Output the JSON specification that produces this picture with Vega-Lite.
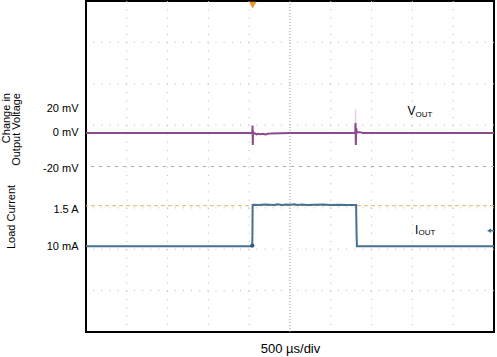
{
  "$schema": "https://vega.github.io/schema/vega-lite/v6.json",
  "width": 408,
  "height": 331,
  "autosize": {"type": "none"},
  "padding": {"left": 86, "top": 1, "right": 3, "bottom": 25},
  "background": "#ffffff",
  "config": {
    "view": {"stroke": "#000000", "strokeWidth": 2},
    "font": "Liberation Sans",
    "text": {"font": "Liberation Sans", "color": "#000000"}
  },
  "datasets": {
    "gx": [{"t": -2000}, {"t": -1500}, {"t": -1000}, {"t": -500}, {"t": 500}, {"t": 1000}, {"t": 1500}, {"t": 2000}],
    "gy": [{"v": -3}, {"v": -2}, {"v": -1}, {"v": 1}, {"v": 2}, {"v": 3}],
    "vout": [
      {"t": -2500, "v": 0.81}, {"t": -1500, "v": 0.81}, {"t": -800, "v": 0.812}, {"t": -470, "v": 0.81},
      {"t": -462, "v": 0.82}, {"t": -459, "v": 0.99}, {"t": -456, "v": 0.52}, {"t": -452, "v": 0.86},
      {"t": -446, "v": 0.79}, {"t": -430, "v": 0.8}, {"t": -410, "v": 0.775}, {"t": -390, "v": 0.79},
      {"t": -360, "v": 0.78}, {"t": -330, "v": 0.79}, {"t": -300, "v": 0.775}, {"t": -270, "v": 0.79},
      {"t": -240, "v": 0.8}, {"t": 0, "v": 0.81}, {"t": 400, "v": 0.81}, {"t": 795, "v": 0.81},
      {"t": 800, "v": 0.83}, {"t": 803, "v": 1.05}, {"t": 807, "v": 0.52}, {"t": 812, "v": 0.92},
      {"t": 820, "v": 0.82}, {"t": 840, "v": 0.83}, {"t": 870, "v": 0.825}, {"t": 890, "v": 0.81},
      {"t": 1500, "v": 0.81}, {"t": 2500, "v": 0.81}
    ],
    "vghost": [
      {"t": 800, "v": 0.81}, {"t": 803, "v": 1.37}, {"t": 806, "v": 0.81}
    ],
    "iout": [
      {"t": -2500, "v": -1.93}, {"t": -1000, "v": -1.93}, {"t": -470, "v": -1.93}, {"t": -463, "v": -1.92},
      {"t": -460, "v": -1.6}, {"t": -458, "v": -0.93}, {"t": -440, "v": -0.925}, {"t": -400, "v": -0.93},
      {"t": -300, "v": -0.92}, {"t": -200, "v": -0.93}, {"t": -150, "v": -0.915}, {"t": -100, "v": -0.93},
      {"t": -50, "v": -0.92}, {"t": 0, "v": -0.925}, {"t": 50, "v": -0.915}, {"t": 100, "v": -0.93},
      {"t": 150, "v": -0.92}, {"t": 200, "v": -0.93}, {"t": 300, "v": -0.925}, {"t": 400, "v": -0.92},
      {"t": 500, "v": -0.93}, {"t": 600, "v": -0.925}, {"t": 700, "v": -0.93}, {"t": 810, "v": -0.93},
      {"t": 815, "v": -1.55}, {"t": 820, "v": -1.93}, {"t": 1200, "v": -1.93}, {"t": 2500, "v": -1.93}
    ],
    "ref": [{"v": -0.947}],
    "titles": [
      {"t": -3468, "v": 1.776, "text": "Change in"},
      {"t": -3346, "v": 1.776, "text": "Output Voltage"}
    ],
    "title2": [{"t": -3407, "v": -1.22, "text": "Load Current"}],
    "big": [
      {"t": 1440, "v": 1.245, "text": "V"},
      {"t": 1532, "v": -1.62, "text": "I"}
    ],
    "sub": [
      {"t": 1538, "v": 1.2, "text": "OUT"},
      {"t": 1575, "v": -1.655, "text": "OUT"}
    ],
    "trig": [{"t": -457, "v": 3.9}],
    "gnd": [{"t": 2440, "t2": 2500, "v": -1.55}],
    "blob": [{"t": -462, "v": -1.91}]
  },
  "layer": [
    {
      "data": {"name": "gx"},
      "mark": {"type": "rule", "color": "#b8b8b8", "strokeWidth": 1, "strokeDash": [1, 7.28]},
      "encoding": {
        "x": {"field": "t", "type": "quantitative", "scale": {"domain": [-2500, 2500], "nice": false, "zero": false},
          "axis": {"title": "500 µs/div", "labels": false, "ticks": false, "domain": false, "grid": false,
            "titleFontSize": 13, "titleFontWeight": "normal", "titleColor": "#000000", "titlePadding": 10, "titleFont": "Liberation Sans"}}
      }
    },
    {
      "data": {"name": "gy"},
      "mark": {"type": "rule", "color": "#b8b8b8", "strokeWidth": 1, "strokeDash": [1, 7.16]},
      "encoding": {
        "y": {"field": "v", "type": "quantitative", "scale": {"domain": [-4, 4], "nice": false, "zero": false},
          "axis": {"title": null, "values": [1.39, 0.81, -0.04, -1.05, -1.93], "ticks": false, "domain": false, "grid": false,
            "labelFontSize": 11, "labelColor": "#000000", "labelPadding": 8, "labelFont": "Liberation Sans",
            "labelExpr": "datum.value > 1 ? '20 mV' : datum.value > 0.5 ? '0 mV' : datum.value > -0.5 ? '-20 mV' : datum.value > -1.5 ? '1.5 A' : '10 mA'"}}
      }
    },
    {
      "data": {"values": [{"t": 0}]},
      "mark": {"type": "rule", "color": "#9a9a9a", "strokeWidth": 1, "strokeDash": [1, 2]},
      "encoding": {"x": {"field": "t", "type": "quantitative"}}
    },
    {
      "data": {"values": [{"v": 0}]},
      "mark": {"type": "rule", "color": "#a8a8a8", "strokeWidth": 1, "strokeDash": [3, 5]},
      "encoding": {"y": {"field": "v", "type": "quantitative"}}
    },
    {
      "data": {"name": "ref"},
      "mark": {"type": "rule", "color": "#d9ba6a", "strokeWidth": 1, "strokeDash": [4, 3]},
      "encoding": {"y": {"field": "v", "type": "quantitative"}}
    },
    {
      "data": {"name": "vghost"},
      "mark": {"type": "line", "color": "#edcaed", "strokeWidth": 1.5},
      "encoding": {
        "x": {"field": "t", "type": "quantitative"},
        "y": {"field": "v", "type": "quantitative"}
      }
    },
    {
      "data": {"name": "vout"},
      "mark": {"type": "line", "color": "#8c4a8f", "strokeWidth": 2},
      "encoding": {
        "x": {"field": "t", "type": "quantitative"},
        "y": {"field": "v", "type": "quantitative"}
      }
    },
    {
      "data": {"name": "iout"},
      "mark": {"type": "line", "color": "#46718f", "strokeWidth": 2},
      "encoding": {
        "x": {"field": "t", "type": "quantitative"},
        "y": {"field": "v", "type": "quantitative"}
      }
    },
    {
      "data": {"name": "blob"},
      "mark": {"type": "point", "filled": true, "color": "#2f5f80", "size": 18, "opacity": 1},
      "encoding": {
        "x": {"field": "t", "type": "quantitative"},
        "y": {"field": "v", "type": "quantitative"}
      }
    },
    {
      "data": {"name": "trig"},
      "mark": {"type": "point", "shape": "triangle-down", "filled": true, "color": "#e89a2c", "size": 60, "opacity": 1},
      "encoding": {
        "x": {"field": "t", "type": "quantitative"},
        "y": {"field": "v", "type": "quantitative"}
      }
    },
    {
      "data": {"name": "gnd"},
      "mark": {"type": "rule", "color": "#46718f", "strokeWidth": 1.5},
      "encoding": {
        "x": {"field": "t", "type": "quantitative"},
        "x2": {"field": "t2"},
        "y": {"field": "v", "type": "quantitative"}
      }
    },
    {
      "data": {"name": "gnd"},
      "mark": {"type": "point", "shape": "triangle-left", "filled": true, "color": "#46718f", "size": 22, "opacity": 1},
      "encoding": {
        "x": {"field": "t", "type": "quantitative"},
        "y": {"field": "v", "type": "quantitative"}
      }
    },
    {
      "data": {"name": "titles"},
      "mark": {"type": "text", "angle": 270, "align": "right", "baseline": "middle", "fontSize": 11},
      "encoding": {
        "x": {"field": "t", "type": "quantitative"},
        "y": {"field": "v", "type": "quantitative"},
        "text": {"field": "text"}
      }
    },
    {
      "data": {"name": "title2"},
      "mark": {"type": "text", "angle": 270, "align": "center", "baseline": "middle", "fontSize": 11},
      "encoding": {
        "x": {"field": "t", "type": "quantitative"},
        "y": {"field": "v", "type": "quantitative"},
        "text": {"field": "text"}
      }
    },
    {
      "data": {"name": "big"},
      "mark": {"type": "text", "align": "left", "baseline": "alphabetic", "fontSize": 12},
      "encoding": {
        "x": {"field": "t", "type": "quantitative"},
        "y": {"field": "v", "type": "quantitative"},
        "text": {"field": "text"}
      }
    },
    {
      "data": {"name": "sub"},
      "mark": {"type": "text", "align": "left", "baseline": "alphabetic", "fontSize": 8},
      "encoding": {
        "x": {"field": "t", "type": "quantitative"},
        "y": {"field": "v", "type": "quantitative"},
        "text": {"field": "text"}
      }
    }
  ]
}
